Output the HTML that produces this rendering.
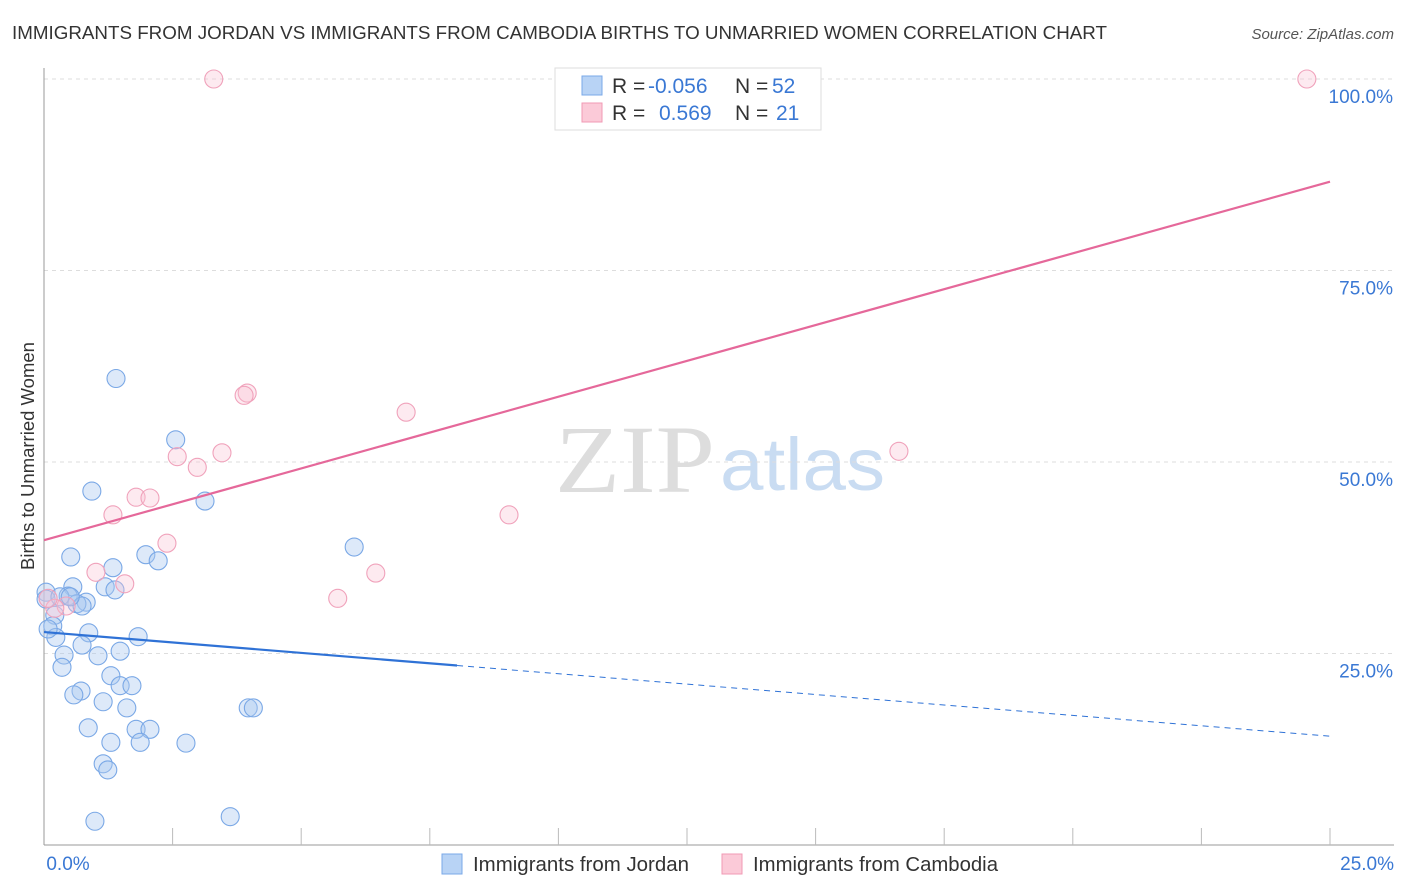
<!DOCTYPE html>
<html><head><meta charset="utf-8"><style>
body{margin:0;background:#fff;font-family:"Liberation Sans",sans-serif;}
svg{display:block}
</style></head><body>
<svg id="chart" width="1406" height="892" xmlns="http://www.w3.org/2000/svg">
<text x="12" y="39" font-size="18.5" fill="#333" textLength="1095" lengthAdjust="spacingAndGlyphs">IMMIGRANTS FROM JORDAN VS IMMIGRANTS FROM CAMBODIA BIRTHS TO UNMARRIED WOMEN CORRELATION CHART</text>
<text x="1394" y="39" font-size="15" fill="#555" font-style="italic" text-anchor="end">Source: ZipAtlas.com</text>
<text x="0" y="0" transform="translate(34,456) rotate(-90)" font-size="18.5" fill="#333" text-anchor="middle">Births to Unmarried Women</text>
<text x="555" y="492" font-size="96" fill="#ddd" font-family="Liberation Serif,serif" textLength="160" lengthAdjust="spacingAndGlyphs">ZIP</text>
<text x="720" y="490" font-size="74" fill="#c9dcf2" textLength="165" lengthAdjust="spacingAndGlyphs">atlas</text>
<g id="grid"></g><g id="axes"></g><g id="marks"></g>
<g>
<rect x="555" y="68" width="266" height="62" fill="#fff" stroke="#ddd"/>
<rect x="582" y="76" width="20" height="19" fill="#b8d3f5" stroke="#7aa8e8"/>
<rect x="582" y="103" width="20" height="19" fill="#fbcad8" stroke="#f09ab4"/>
<text x="612" y="93" font-size="21" fill="#333">R = <tspan x="648" fill="#3a78d4">-0.056</tspan><tspan x="735">N = </tspan><tspan x="772" fill="#3a78d4">52</tspan></text>
<text x="612" y="120" font-size="21" fill="#333">R = <tspan x="659" fill="#3a78d4">0.569</tspan><tspan x="735">N = </tspan><tspan x="776" fill="#3a78d4">21</tspan></text>
</g>
<g>
<rect x="442" y="854" width="20" height="20" fill="#b8d3f5" stroke="#7aa8e8"/>
<text x="473" y="871" font-size="20" fill="#333" textLength="216" lengthAdjust="spacingAndGlyphs">Immigrants from Jordan</text>
<rect x="722" y="854" width="20" height="20" fill="#fbcad8" stroke="#f09ab4"/>
<text x="753" y="871" font-size="20" fill="#333" textLength="245" lengthAdjust="spacingAndGlyphs">Immigrants from Cambodia</text>
</g>
</svg>
<script>
const yTicks=[25,50,75,100];
const yTickLabels=["25.0%","50.0%","75.0%","100.0%"];
const xTickLabels=["0.0%","25.0%"];
const jordanX=[1.40,2.56,0.93,3.13,0.52,1.98,2.22,6.03,1.34,1.19,1.38,0.56,0.04,0.04,0.47,0.82,0.64,0.74,0.21,0.17,0.87,0.23,1.83,0.74,1.48,1.05,0.39,0.35,1.30,1.48,1.71,0.72,0.58,1.15,1.61,3.97,4.07,0.86,1.79,2.06,1.30,1.87,2.76,1.15,1.24,0.99,3.62,0.08,0.31,0.51];
const jordanY=[60.9,52.9,46.2,44.9,37.6,37.9,37.1,38.9,36.2,33.7,33.3,33.7,33.0,32.1,32.5,31.7,31.5,31.2,30.0,28.6,27.7,27.1,27.2,26.1,25.3,24.7,24.8,23.2,22.1,20.8,20.8,20.1,19.6,18.7,17.9,17.9,17.9,15.3,15.1,15.1,13.4,13.4,13.3,10.6,9.8,3.1,3.7,28.2,32.4,32.4];
const cambodiaX=[3.30,24.55,3.95,3.89,7.04,16.62,2.59,2.98,3.46,1.79,2.06,1.34,9.04,2.39,1.01,6.45,1.57,5.71,0.43,0.21,0.08];
const cambodiaY=[100,100,59.0,58.7,56.5,51.4,50.7,49.3,51.2,45.4,45.3,43.1,43.1,39.4,35.6,35.5,34.1,32.2,31.2,30.9,32.2];
const jordanTrend=[27.8,14.2], jordanSolidEnd=8.03;
const cambodiaTrend=[39.8,86.6];
const NS="http://www.w3.org/2000/svg";
const X=v=>44+v/25*1286, Y=v=>845-v/100*766;
function mk(t,a,p){const e=document.createElementNS(NS,t);for(const k in a)e.setAttribute(k,a[k]);document.getElementById(p).appendChild(e);return e;}
yTicks.forEach((t,i)=>{
 const g=mk('line',{x1:44,x2:1394,y1:Y(t),y2:Y(t),stroke:'#ddd','stroke-dasharray':'4,4'},'grid');
 
 
 const l=mk('text',{x:1393,y:Y(t)+24,'font-size':19,fill:'#3a78d4','text-anchor':'end'},'axes');l.textContent=yTickLabels[i];
 
 
});
mk('line',{x1:44,x2:1394,y1:79,y2:79,stroke:'#ddd','stroke-dasharray':'4,4'},'grid');
const ya=mk('line',{x1:44,x2:44,y1:68,y2:845,stroke:'#999'},'axes');


const xa=mk('line',{x1:44,x2:1394,y1:845,y2:845,stroke:'#999'},'axes');


for(let i=1;i<=10;i++){mk('line',{x1:X(i*2.5),x2:X(i*2.5),y1:828,y2:845,stroke:'#bbb'},'axes');}
[[0,68],[25,1394]].forEach((d,i)=>{const t=mk('text',{x:d[1],y:870,'font-size':19,fill:'#3a78d4','text-anchor':i?'end':'middle'},'axes');t.textContent=xTickLabels[i];
 
 });
jordanX.forEach((x,i)=>{const c=mk('circle',{cx:X(x),cy:Y(jordanY[i]),r:9,fill:'rgba(170,200,240,0.4)',stroke:'#7aa8e6','stroke-width':1.1},'marks');
 
 });
cambodiaX.forEach((x,i)=>{const c=mk('circle',{cx:X(x),cy:Y(cambodiaY[i]),r:9,fill:'rgba(250,195,212,0.35)',stroke:'#f0a2bb','stroke-width':1.1},'marks');
 
 });
const jy=x=>jordanTrend[0]+(jordanTrend[1]-jordanTrend[0])*x/25;
const l1=mk('line',{x1:X(0),y1:Y(jy(0)),x2:X(jordanSolidEnd),y2:Y(jy(jordanSolidEnd)),stroke:'#2f72d6','stroke-width':2.2},'marks');


const l2=mk('line',{x1:X(jordanSolidEnd),y1:Y(jy(jordanSolidEnd)),x2:X(25),y2:Y(jy(25)),stroke:'#2f72d6','stroke-width':1,'stroke-dasharray':'6,5'},'marks');


const l3=mk('line',{x1:X(0),y1:Y(cambodiaTrend[0]),x2:X(25),y2:Y(cambodiaTrend[1]),stroke:'#e5689a','stroke-width':2.2},'marks');


</script>
</body></html>
